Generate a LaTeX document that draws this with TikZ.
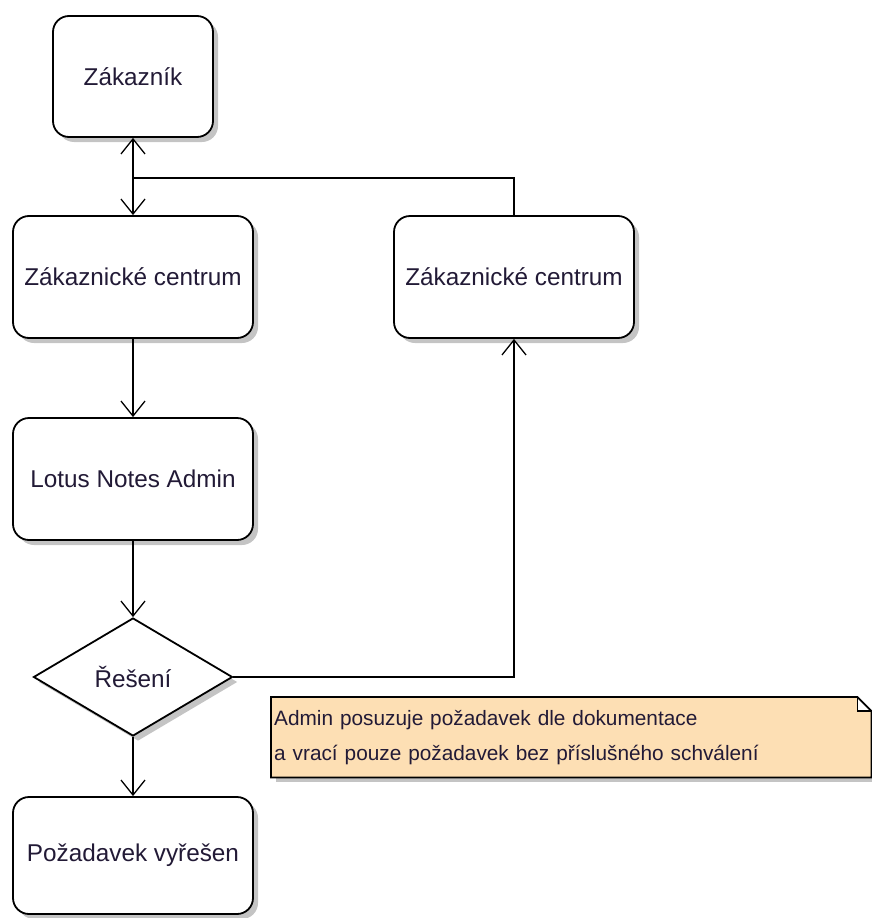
\documentclass[tikz,border=0pt]{standalone}
\usepackage{fontspec}
\setmainfont{Liberation Sans}
\usetikzlibrary{arrows.meta,shapes.geometric,shadows,calc}
\definecolor{ink}{HTML}{221A36}
\definecolor{notefill}{HTML}{FDDFB4}
\definecolor{shade}{HTML}{C4C4C4}
\begin{document}
\begin{tikzpicture}[x=1pt,y=-1pt,
  boxshadow/.style={general shadow={fill=shade, shadow xshift=5pt, shadow yshift=-5pt}},
  stepbox/.style={draw=black, line width=1.8pt, rounded corners=16pt, fill=white,
    minimum width=240pt, minimum height=122pt, inner sep=0pt, text=ink,
    font=\fontsize{24.3}{28}\selectfont, boxshadow},
  decision/.style={diamond, draw=black, line width=1.8pt, fill=white, aspect=1.69,
    minimum width=199pt, minimum height=118pt, inner sep=0pt, text=ink,
    font=\fontsize{24.3}{28}\selectfont, boxshadow},
  notebox/.style={fill=notefill, minimum width=600pt, minimum height=80pt,
    text width=594pt, inner xsep=3pt, inner ysep=0pt, align=left, text=ink,
    font=\fontsize{20.8}{35}\selectfont, boxshadow},
  barb/.tip={Straight Barb[length=15pt,width=24pt,line width=1.3pt]},
  wire/.style={line width=1.8pt, draw=black},
  flow/.style={wire, -barb},
]
\useasboundingbox (0,0) rectangle (872,918);

% process steps
\node[stepbox, minimum width=160pt, minimum height=121pt] (zak) at (133,76.5) {Zákazník};
\node[stepbox] (zc1) at (133,277) {Zákaznické centrum};
\node[stepbox] (zc2) at (514,277) {Zákaznické centrum};
\node[stepbox] (lna) at (133,479) {Lotus Notes Admin};
\node[decision] (dec) at (133,677) {Řešení};
\node[stepbox, minimum height=117pt] (done) at (133,855.5) {Požadavek vyřešen};

% connectors
\coordinate (join) at (133,178);
\draw[wire, barb-barb] (zak.south) -- (zc1.north);
\draw[wire] (zc2.north) |- (join);
\draw[flow] (zc1.south) -- (lna.north);
\draw[flow] (lna.south) -- (dec.north);
\draw[flow] (dec.south) -- (done.north);
\draw[flow] (dec.east) -| (zc2.south);

% annotation with folded corner
\node[notebox, anchor=north west] (note) at (271,697)
  {Admin posuzuje požadavek dle dokumentace\\a vrací pouze požadavek bez příslušného schválení};
\fill[white] ($(note.north east)+(-14,-1)$) rectangle ($(note.north east)+(1,14)$);
\draw[line width=1.8pt, line join=miter]
  ($(note.north east)+(0,14)$) -- ($(note.north east)+(-14,14)$) -- ($(note.north east)+(-14,0)$);
\draw[line width=1.8pt, line join=miter]
  (note.south west) -- (note.north west) -- ($(note.north east)+(-14,0)$)
  -- ($(note.north east)+(0,14)$) -- (note.south east) -- cycle;
\end{tikzpicture}
\end{document}
